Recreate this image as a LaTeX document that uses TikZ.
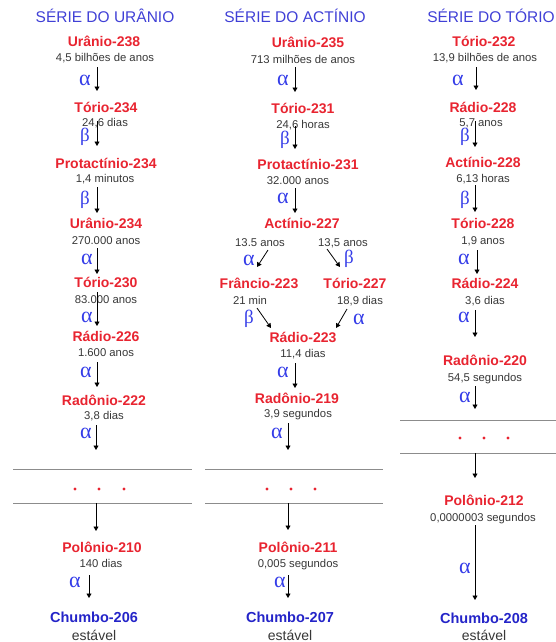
\documentclass[tikz,border=0pt]{standalone}
\usepackage{fontspec}
\setmainfont{Liberation Sans}
\newfontfamily\grk{Liberation Serif}
\usetikzlibrary{arrows.meta}
\definecolor{nred}{RGB}{232,36,48}
\definecolor{tblue}{RGB}{64,64,214}
\definecolor{pbblue}{RGB}{36,36,200}
\definecolor{gblue}{RGB}{52,60,232}
\definecolor{tgray}{RGB}{55,55,55}
\definecolor{lgray}{RGB}{140,140,140}
\newcommand\darrow[5]{\coordinate (#1s) at (#2,#3); \coordinate (#1e) at (#4,#5); \draw[arr] (#1s) -- (#1e);}
\newcommand\rdots[4]{\fill[nred] (#1,#4) circle (1.7); \fill[nred] (#2,#4) circle (1.7); \fill[nred] (#3,#4) circle (1.7);}
\begin{document}
\begin{tikzpicture}[x=1pt,y=-1pt,
  title/.style={font=\fontsize{15.5}{16}\selectfont, text=tblue, inner sep=0pt, text height=11pt, text depth=0pt},
  nm/.style={font=\fontsize{14}{14}\selectfont\bfseries, text=nred, inner sep=0pt, text height=10pt, text depth=0pt},
  pb/.style={font=\fontsize{14.5}{14}\selectfont\bfseries, text=pbblue, inner sep=0pt, text height=10.4pt, text depth=0pt},
  hl/.style={font=\fontsize{11.3}{12}\selectfont, text=tgray, inner sep=0pt, text height=8.1pt, text depth=0pt},
  st/.style={font=\fontsize{14}{14}\selectfont, text=tgray, inner sep=0pt, text height=10pt, text depth=0pt},
  al/.style={font=\grk\fontsize{22}{22}\selectfont, text=gblue, inner sep=0pt, text height=10pt, text depth=0pt},
  be/.style={font=\grk\fontsize{19}{19}\selectfont, text=gblue, inner sep=0pt, text height=9pt, text depth=0pt},
  arr/.style={draw=black, line width=0.8pt, -{Triangle[width=5pt,length=4.5pt]}},
  sep/.style={draw=lgray, line width=1pt}]
\useasboundingbox (0,0) rectangle (556,642);
% ================= Column 1: Urânio =================
\node[title] (t1) at (105,17) {SÉRIE DO URÂNIO};
\node[nm] (u238) at (104,42) {Urânio-238};
\node[hl] (u238t) at (105,57) {4,5 bilhões de anos};
\darrow{a1}{97}{67}{97}{91}
\node[al] (a1l) at (85,80) {α};
\node[nm] (th234) at (106,107) {Tório-234};
\node[hl] (th234t) at (105,122) {24,6 dias};
\darrow{a2}{97}{121}{97}{146}
\node[be] (a2l) at (85,137) {β};
\node[nm] (pa234) at (106,163) {Protactínio-234};
\node[hl] (pa234t) at (105,178) {1,4 minutos};
\darrow{a3}{97}{187}{97}{213}
\node[be] (a3l) at (85,200) {β};
\node[nm] (u234) at (106,223) {Urânio-234};
\node[hl] (u234t) at (106,240) {270.000 anos};
\darrow{a4}{97}{248}{97}{274}
\node[al] (a4l) at (87,259) {α};
\node[nm] (th230) at (106,282) {Tório-230};
\node[hl] (th230t) at (106,299) {83.000 anos};
\darrow{a5}{97}{292}{97}{326}
\node[al] (a5l) at (87,317) {α};
\node[nm] (ra226) at (106,336) {Rádio-226};
\node[hl] (ra226t) at (106,352) {1.600 anos};
\darrow{a6}{97}{362}{97}{387}
\node[al] (a6l) at (86,372) {α};
\node[nm] (rn222) at (104,400) {Radônio-222};
\node[hl] (rn222t) at (104,415) {3,8 dias};
\darrow{a7}{96}{425}{96}{450}
\node[al] (a7l) at (86,433) {α};
\coordinate (l1a) at (13,469); \coordinate (l1b) at (192,469);
\coordinate (l1c) at (13,503); \coordinate (l1d) at (192,503);
\draw[sep] (l1a) -- (l1b); \draw[sep] (l1c) -- (l1d);
\rdots{75}{99}{124}{489}
\darrow{a8}{96}{503}{96}{531}
\node[nm] (po210) at (102,547) {Polônio-210};
\node[hl] (po210t) at (101,563) {140 dias};
\darrow{a9}{89}{575}{89}{598}
\node[al] (a9l) at (75,582) {α};
\node[pb] (pb206) at (94,617) {Chumbo-206};
\node[st] (pb206t) at (94,635) {estável};
% ================= Column 2: Actínio =================
\node[title] (t2) at (295,17) {SÉRIE DO ACTÍNIO};
\node[nm] (u235) at (308,43) {Urânio-235};
\node[hl] (u235t) at (303,59) {713 milhões de anos};
\darrow{b1}{295}{67}{295}{92}
\node[al] (b1l) at (283,80) {α};
\node[nm] (th231) at (303,108) {Tório-231};
\node[hl] (th231t) at (303,124) {24,6 horas};
\darrow{b2}{295}{126}{295}{149}
\node[be] (b2l) at (285,140) {β};
\node[nm] (pa231) at (308,164) {Protactínio-231};
\node[hl] (pa231t) at (298,180) {32.000 anos};
\darrow{b3}{295}{188}{295}{213}
\node[al] (b3l) at (283,198) {α};
\node[nm] (ac227) at (302,223) {Actínio-227};
\node[hl] (ac227l) at (260,242) {13.5 anos};
\node[hl] (ac227r) at (343,242) {13,5 anos};
\darrow{b4}{268}{250}{257}{267}
\node[al] (b4l) at (249,260) {α};
\darrow{b5}{327}{249}{340}{267}
\node[be] (b5l) at (349,259) {β};
\node[nm] (fr223) at (259,283) {Frâncio-223};
\node[hl] (fr223t) at (250,300) {21 min};
\node[nm] (th227) at (355,283) {Tório-227};
\node[hl] (th227t) at (360,300) {18,9 dias};
\darrow{b6}{257}{308}{271}{328}
\node[be] (b6l) at (249,319) {β};
\darrow{b7}{347}{309}{336}{328}
\node[al] (b7l) at (359,319) {α};
\node[nm] (ra223) at (303,337) {Rádio-223};
\node[hl] (ra223t) at (303,353) {11,4 dias};
\darrow{b8}{295}{363}{295}{388}
\node[al] (b8l) at (283,372) {α};
\node[nm] (rn219) at (297,398) {Radônio-219};
\node[hl] (rn219t) at (298,413) {3,9 segundos};
\darrow{b9}{288}{423}{288}{450}
\node[al] (b9l) at (277,433) {α};
\coordinate (l2a) at (205,469); \coordinate (l2b) at (383,469);
\coordinate (l2c) at (205,503); \coordinate (l2d) at (383,503);
\draw[sep] (l2a) -- (l2b); \draw[sep] (l2c) -- (l2d);
\rdots{267}{291}{315}{489}
\darrow{b10}{288}{503}{288}{530}
\node[nm] (po211) at (298,547) {Polônio-211};
\node[hl] (po211t) at (298,563) {0,005 segundos};
\darrow{b11}{288}{575}{288}{598}
\node[al] (b11l) at (280,582) {α};
\node[pb] (pb207) at (290,617) {Chumbo-207};
\node[st] (pb207t) at (290,635) {estável};
% ================= Column 3: Tório =================
\node[title] (t3) at (491,17) {SÉRIE DO TÓRIO};
\node[nm] (th232) at (484,42) {Tório-232};
\node[hl] (th232t) at (485,57) {13,9 bilhões de anos};
\darrow{c1}{476}{67}{476}{90}
\node[al] (c1l) at (458,80) {α};
\node[nm] (ra228) at (483,107) {Rádio-228};
\node[hl] (ra228t) at (481,122) {5,7 anos};
\darrow{c2}{475}{121}{475}{147}
\node[be] (c2l) at (465,137) {β};
\node[nm] (ac228) at (483,162) {Actínio-228};
\node[hl] (ac228t) at (483,178) {6,13 horas};
\darrow{c3}{475}{185}{475}{212}
\node[be] (c3l) at (465,200) {β};
\node[nm] (th228) at (483,223) {Tório-228};
\node[hl] (th228t) at (483,240) {1,9 anos};
\darrow{c4}{477}{250}{477}{274}
\node[al] (c4l) at (464,259) {α};
\node[nm] (ra224) at (485,283) {Rádio-224};
\node[hl] (ra224t) at (485,300) {3,6 dias};
\darrow{c5}{475}{310}{475}{337}
\node[al] (c5l) at (464,317) {α};
\node[nm] (rn220) at (485,360) {Radônio-220};
\node[hl] (rn220t) at (485,377) {54,5 segundos};
\darrow{c6}{475}{386}{475}{409}
\node[al] (c6l) at (465,397) {α};
\coordinate (l3a) at (400,420); \coordinate (l3b) at (556,420);
\coordinate (l3c) at (400,453); \coordinate (l3d) at (556,453);
\draw[sep] (l3a) -- (l3b); \draw[sep] (l3c) -- (l3d);
\rdots{460}{484}{508}{438}
\darrow{c7}{475}{453}{475}{478}
\node[nm] (po212) at (484,500) {Polônio-212};
\node[hl] (po212t) at (483,517) {0,0000003 segundos};
\darrow{c8}{475}{525}{475}{600}
\node[al] (c8l) at (465,568) {α};
\node[pb] (pb208) at (484,618) {Chumbo-208};
\node[st] (pb208t) at (484,635) {estável};
\end{tikzpicture}
\end{document}
